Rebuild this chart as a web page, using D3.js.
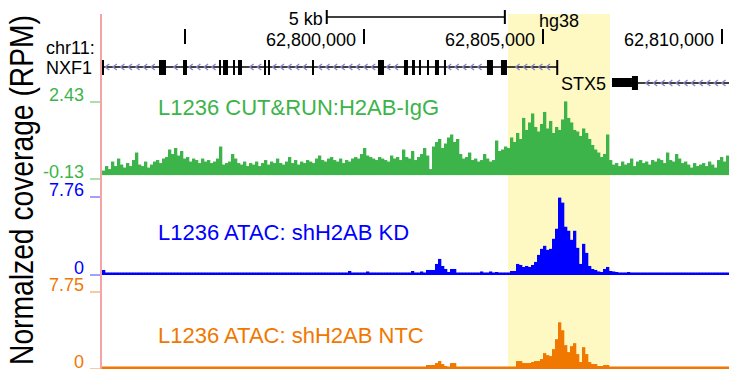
<!DOCTYPE html>
<html>
<head>
<meta charset="utf-8">
<script src="https://cdn.jsdelivr.net/npm/d3@7"></script>
<style>
  body { margin: 0; background: #fff; }
  svg { display: block; font-family: "Liberation Sans", Arial, Helvetica, sans-serif; }
</style>
</head>
<body>
<div id="chart"></div>
<script>
// ---- data ----
const viewRange = [62792682, 62810196];           // chr11 window shown
const highlightRange = [62804020, 62806870];      // yellow region
const rulerTicks = [62795000, 62800000, 62805000, 62810000];
const rulerLabels = ["", "62,800,000", "62,805,000", "62,810,000"];
const scaleBarRange = [62798960, 62803935];       // 5 kb bar

const nxf1Span = [62792682, 62805420];
const nxf1Exons = [
  [62792682, 62792730], [62794274, 62794470], [62794945, 62795056],
  [62795950, 62796006], [62796062, 62796202], [62796341, 62796397],
  [62796481, 62796593], [62797207, 62797240], [62797319, 62797375],
  [62798548, 62798603], [62800391, 62800559], [62801117, 62801229],
  [62801341, 62801424], [62801536, 62801592], [62801760, 62801815],
  [62801983, 62802095], [62802234, 62802290], [62803435, 62803603],
  [62803826, 62803994], [62805370, 62805420]
];
const stx5Span = [62806927, 62810196];
const stx5Utr = [62806927, 62807485];
const stx5Exons = [[62807485, 62807653]];

// coverage, one value per 84 bp bin starting at the left edge
const binStart = 62792682;
const binSize = 83.8;

const h2abIgG = [
  0.15,0.3,0.2,0.45,0.3,0.55,0.35,0.25,0.4,0.3,
  0.5,0.75,0.35,0.3,0.45,0.25,0.35,0.45,0.5,0.4,
  0.55,0.6,0.85,0.7,0.9,0.65,0.8,0.55,0.6,0.45,
  0.55,0.5,0.4,0.55,0.45,0.5,0.4,0.45,0.55,0.95,
  0.35,0.4,0.45,0.7,0.55,0.4,0.35,0.45,0.3,0.4,
  0.35,0.45,0.3,0.4,0.5,0.35,0.45,0.4,0.55,0.4,
  0.35,0.45,0.6,0.4,0.5,0.35,0.45,0.4,0.5,0.45,
  0.4,0.55,0.65,0.5,0.45,0.55,0.6,0.5,0.45,0.55,
  0.4,0.5,0.45,0.55,0.6,0.55,0.7,0.9,0.65,0.6,
  0.55,0.5,0.6,0.55,0.5,0.45,0.65,0.55,0.6,0.5,
  0.85,0.6,0.55,0.8,0.5,0.6,0.7,0.9,0.65,0.2,
  0.95,1.1,1.2,0.9,1.05,1.25,1.35,1.1,1.2,0.7,
  0.55,0.6,0.75,0.5,0.55,0.45,0.5,0.7,0.55,0.45,
  0.5,1.15,0.8,0.85,0.95,0.9,1.25,1.1,1.4,1.2,
  1.9,1.5,1.75,2.05,1.6,1.45,1.7,2.1,1.55,1.8,
  1.4,1.6,1.5,1.85,2.45,1.9,1.75,1.5,1.45,1.3,
  1.55,1.4,1.2,1.0,0.85,0.75,0.6,0.7,1.35,0.5,
  0.35,0.4,0.3,0.45,0.35,0.4,0.55,0.3,0.45,0.5,
  0.4,0.45,0.35,0.5,0.45,0.55,0.5,0.4,0.75,0.5,
  0.45,0.7,0.55,0.4,0.45,0.35,0.25,0.4,0.3,0.35,
  0.4,0.3,0.45,0.35,0.25,0.5,0.6,0.45,0.65
];

const atacKD = [
  0.5,0.25,0.25,0.25,0.25,0.25,0.25,0.25,0.25,0.25,
  0.25,0.25,0.25,0.25,0.25,0.25,0.25,0.25,0.25,0.25,
  0.25,0.25,0.25,0.25,0.25,0.25,0.25,0.25,0.25,0.25,
  0.25,0.25,0.25,0.25,0.25,0.25,0.25,0.25,0.25,0.25,
  0.25,0.25,0.25,0.25,0.25,0.25,0.25,0.25,0.25,0.25,
  0.25,0.25,0.25,0.25,0.25,0.25,0.25,0.25,0.25,0.25,
  0.25,0.25,0.25,0.25,0.25,0.25,0.25,0.25,0.25,0.25,
  0.25,0.25,0.25,0.25,0.25,0.25,0.25,0.25,0.25,0.25,
  0.25,0.25,0.4,0.25,0.25,0.25,0.25,0.25,0.35,0.25,
  0.25,0.25,0.25,0.25,0.25,0.25,0.25,0.25,0.25,0.25,
  0.25,0.25,0.25,0.4,0.25,0.25,0.35,0.25,0.5,0.5,
  0.5,1.1,1.6,0.9,0.6,0.3,0.6,0.6,0.25,0.25,
  0.25,0.25,0.25,0.25,0.25,0.25,0.35,0.25,0.25,0.35,
  0.25,0.3,0.25,0.25,0.25,0.25,0.4,0.4,1.1,1.0,
  0.8,0.9,0.8,1.0,1.3,2.0,2.6,2.9,2.5,2.6,
  3.6,4.6,7.7,7.2,4.8,4.4,3.5,4.4,2.7,1.1,
  3.1,2.2,0.9,0.6,0.5,0.35,0.3,0.6,0.8,0.4,
  0.35,0.3,0.25,0.25,0.25,0.3,0.25,0.25,0.25,0.25,
  0.25,0.25,0.25,0.25,0.25,0.25,0.25,0.25,0.25,0.25,
  0.25,0.25,0.25,0.25,0.25,0.25,0.25,0.25,0.25,0.25,
  0.25,0.25,0.25,0.25,0.25,0.25,0.25,0.25,0.25
];

const atacNTC = [
  0.25,0.25,0.25,0.25,0.25,0.25,0.25,0.25,0.25,0.25,
  0.25,0.25,0.25,0.25,0.25,0.25,0.25,0.25,0.25,0.25,
  0.25,0.25,0.25,0.25,0.25,0.25,0.25,0.25,0.25,0.25,
  0.25,0.25,0.25,0.25,0.25,0.25,0.25,0.25,0.25,0.25,
  0.25,0.25,0.25,0.25,0.25,0.25,0.25,0.25,0.25,0.25,
  0.25,0.25,0.25,0.25,0.25,0.25,0.25,0.25,0.25,0.25,
  0.25,0.25,0.25,0.25,0.25,0.25,0.25,0.25,0.25,0.25,
  0.25,0.25,0.25,0.25,0.25,0.25,0.25,0.25,0.25,0.25,
  0.25,0.25,0.25,0.25,0.25,0.25,0.25,0.25,0.25,0.25,
  0.25,0.25,0.25,0.25,0.25,0.25,0.25,0.25,0.25,0.25,
  0.25,0.25,0.25,0.25,0.25,0.25,0.25,0.25,0.4,0.4,
  0.4,0.6,0.8,0.5,0.3,0.25,0.6,0.6,0.25,0.25,
  0.25,0.25,0.25,0.25,0.25,0.25,0.25,0.25,0.25,0.25,
  0.25,0.25,0.25,0.25,0.25,0.25,0.25,0.25,0.8,0.8,
  0.6,0.6,0.6,0.7,0.8,0.8,1.0,1.6,1.4,1.3,
  2.0,3.0,4.7,3.9,2.4,1.7,2.3,2.6,1.5,0.7,
  2.2,1.5,0.7,0.5,0.5,0.3,0.3,0.4,0.4,0.25,
  0.25,0.25,0.25,0.25,0.25,0.25,0.25,0.25,0.25,0.25,
  0.25,0.25,0.25,0.25,0.25,0.25,0.25,0.25,0.25,0.25,
  0.25,0.25,0.25,0.25,0.25,0.25,0.25,0.25,0.25,0.25,
  0.25,0.25,0.25,0.25,0.25,0.25,0.25,0.25,0.25
];

const trackNames = ["L1236 CUT&RUN:H2AB-IgG", "L1236 ATAC: shH2AB KD", "L1236 ATAC: shH2AB NTC"];
const trackValues = [h2abIgG, atacKD, atacNTC];
const trackDomains = [[-0.13, 2.43], [0, 7.76], [0, 7.75]];
const trackTickLabels = [["2.43", "-0.13"], ["7.76", "0"], ["7.75", "0"]];

// ---- layout ----
const width = 729, height = 369;
const trackLayout = [
  { top: 102, bottom: 179, labelY: 115, color: "#3cb44a", tick: "#8fd496" },
  { top: 197, bottom: 275, labelY: 240, color: "#0000ff", tick: "#8080ff" },
  { top: 292, bottom: 369, labelY: 343, color: "#f07800", tick: "#f6b880" }
];

const svg = d3.select("#chart").append("svg")
  .attr("width", width)
  .attr("height", height);

const xScale = d3.scaleLinear().domain(viewRange).range([102, 729]);

// highlight band
svg.append("rect")
  .attr("x", xScale(highlightRange[0]))
  .attr("y", 14)
  .attr("width", xScale(highlightRange[1]) - xScale(highlightRange[0]))
  .attr("height", height - 14)
  .attr("fill", "#fef8c3");

// left border line
svg.append("line")
  .attr("x1", 101).attr("x2", 101)
  .attr("y1", 14).attr("y2", height)
  .attr("stroke", "#f5a3a3")
  .attr("stroke-width", 2);

// y title
svg.append("text")
  .attr("transform", "translate(33,190) rotate(-90)")
  .attr("text-anchor", "middle")
  .attr("font-size", 33)
  .attr("textLength", 350)
  .attr("lengthAdjust", "spacingAndGlyphs")
  .text("Normalzed coverage (RPM)");

// ---- ruler ----
const ruler = svg.append("g").attr("class", "ruler");

ruler.append("text")
  .attr("x", xScale(scaleBarRange[0]) - 4)
  .attr("y", 25)
  .attr("text-anchor", "end")
  .attr("font-size", 18)
  .text("5 kb");

ruler.append("line")
  .attr("x1", xScale(scaleBarRange[0])).attr("x2", xScale(scaleBarRange[1]))
  .attr("y1", 17).attr("y2", 17)
  .attr("stroke", "#000").attr("stroke-width", 1.5);

ruler.selectAll(".bar-end")
  .data(scaleBarRange)
  .join("line")
  .attr("class", "bar-end")
  .attr("x1", d => xScale(d)).attr("x2", d => xScale(d))
  .attr("y1", 10).attr("y2", 24)
  .attr("stroke", "#000").attr("stroke-width", 2);

ruler.append("text")
  .attr("x", xScale(d3.mean(highlightRange)))
  .attr("y", 27)
  .attr("text-anchor", "middle")
  .attr("font-size", 18)
  .text("hg38");

ruler.selectAll(".tick")
  .data(rulerTicks)
  .join("line")
  .attr("class", "tick")
  .attr("x1", d => xScale(d)).attr("x2", d => xScale(d))
  .attr("y1", 29).attr("y2", 44)
  .attr("stroke", "#000").attr("stroke-width", 2);

ruler.selectAll(".tick-label")
  .data(rulerTicks)
  .join("text")
  .attr("class", "tick-label")
  .attr("x", d => xScale(d) - 8)
  .attr("y", 46)
  .attr("text-anchor", "end")
  .attr("font-size", 18)
  .text((d, i) => rulerLabels[i]);

svg.append("text").attr("x", 46).attr("y", 54).attr("font-size", 18).text("chr11:");
svg.append("text").attr("x", 46).attr("y", 74).attr("font-size", 18).text("NXF1");

// ---- genes ----
function chevrons(g, span, exons, y) {
  const x0 = xScale(span[0]), x1 = xScale(span[1]);
  const ex = exons.map(e => [xScale(e[0]), xScale(e[1])]);
  const pts = [];
  for (let x = x0 + 5; x < x1 - 3; x += 7.6) {
    if (!ex.some(e => x > e[0] - 4 && x < e[1] + 3)) pts.push(x);
  }
  g.selectAll(null)
    .data(pts)
    .join("path")
    .attr("d", x => `M${x + 2.2},${y - 3}L${x - 1.6},${y}L${x + 2.2},${y + 3}`)
    .attr("fill", "none")
    .attr("stroke", "#8686c8")
    .attr("stroke-width", 1.4);
}

const genes = svg.append("g").attr("class", "genes");

genes.append("line")
  .attr("x1", xScale(nxf1Span[0])).attr("x2", xScale(nxf1Span[1]))
  .attr("y1", 67).attr("y2", 67)
  .attr("stroke", "#000").attr("stroke-width", 1.5);
chevrons(genes, nxf1Span, nxf1Exons, 67);
genes.selectAll(".nxf1-exon")
  .data(nxf1Exons)
  .join("rect")
  .attr("class", "nxf1-exon")
  .attr("x", d => xScale(d[0]))
  .attr("width", d => Math.max(2, xScale(d[1]) - xScale(d[0])))
  .attr("y", 60).attr("height", 15)
  .attr("fill", "#000");

genes.append("line")
  .attr("x1", xScale(stx5Span[0])).attr("x2", xScale(stx5Span[1]))
  .attr("y1", 83).attr("y2", 83)
  .attr("stroke", "#000").attr("stroke-width", 1.5);
chevrons(genes, stx5Span, [stx5Utr].concat(stx5Exons), 83);
genes.append("rect")
  .attr("x", xScale(stx5Utr[0]))
  .attr("width", xScale(stx5Utr[1]) - xScale(stx5Utr[0]))
  .attr("y", 78).attr("height", 9)
  .attr("fill", "#000");
genes.selectAll(".stx5-exon")
  .data(stx5Exons)
  .join("rect")
  .attr("class", "stx5-exon")
  .attr("x", d => xScale(d[0]))
  .attr("width", d => xScale(d[1]) - xScale(d[0]))
  .attr("y", 76).attr("height", 14)
  .attr("fill", "#000");
genes.append("text")
  .attr("x", xScale(stx5Span[0]) - 6)
  .attr("y", 90)
  .attr("text-anchor", "end")
  .attr("font-size", 18)
  .text("STX5");

// ---- signal tracks ----
const binWidth = xScale(binStart + binSize) - xScale(binStart);

trackLayout.forEach((t, k) => {
  const yScale = d3.scaleLinear().domain(trackDomains[k]).range([t.bottom, t.top]);
  const g = svg.append("g").attr("class", "track");
  const y0 = yScale(Math.max(0, trackDomains[k][0]));

  g.selectAll("rect")
    .data(trackValues[k])
    .join("rect")
    .attr("x", (d, i) => xScale(binStart + i * binSize))
    .attr("width", binWidth + 0.3)
    .attr("y", d => Math.min(yScale(d), y0))
    .attr("height", d => Math.abs(y0 - yScale(d)))
    .attr("fill", t.color);

  g.selectAll(".vtick")
    .data(trackDomains[k].slice().reverse())
    .join("line")
    .attr("class", "vtick")
    .attr("x1", 90).attr("x2", 100)
    .attr("y1", d => yScale(d)).attr("y2", d => yScale(d))
    .attr("stroke", t.tick).attr("stroke-width", 1.5);

  g.selectAll(".vlabel")
    .data(trackDomains[k].slice().reverse())
    .join("text")
    .attr("class", "vlabel")
    .attr("x", 84)
    .attr("y", d => yScale(d) - 1)
    .attr("text-anchor", "end")
    .attr("font-size", 18)
    .attr("fill", t.color)
    .text((d, i) => trackTickLabels[k][i]);

  g.append("text")
    .attr("x", 158)
    .attr("y", t.labelY)
    .attr("font-size", 22)
    .attr("fill", t.color)
    .text(trackNames[k]);
});
</script>
</body>
</html>
